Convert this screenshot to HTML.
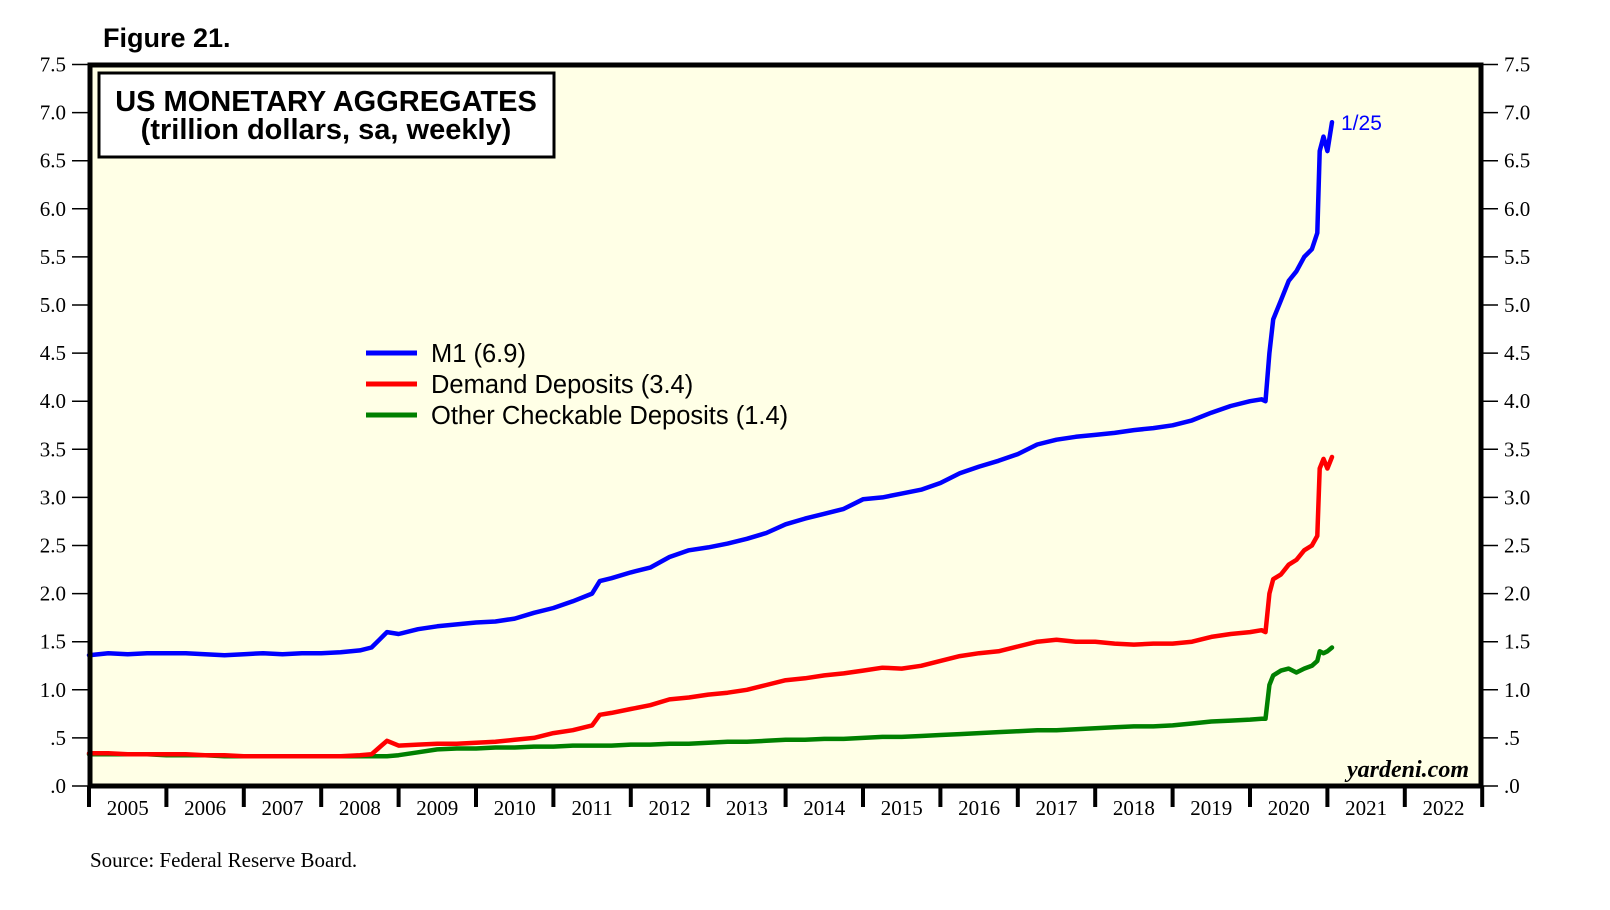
<!DOCTYPE html>
<html><head><meta charset="utf-8"><style>
html,body{margin:0;padding:0;background:#fff;}
svg{display:block;}
</style></head><body>
<svg id="chart" width="1610" height="910" viewBox="0 0 1610 910" xmlns="http://www.w3.org/2000/svg" font-family="'Liberation Serif', serif">
  <text x="103" y="47" font-family="'Liberation Sans', sans-serif" font-weight="bold" font-size="27">Figure 21.</text>
  <rect x="90" y="65" width="1391" height="721" fill="#ffffe6"/>
  <g id="ticks"></g>
  <g id="series"></g>
  <rect x="90" y="65" width="1391" height="721" fill="none" stroke="#000" stroke-width="5"/>
  <rect x="99" y="73" width="455" height="84" fill="#fff" stroke="#000" stroke-width="3"/>
  <text x="326" y="111" text-anchor="middle" font-family="'Liberation Sans', sans-serif" font-weight="bold" font-size="29">US MONETARY AGGREGATES</text>
  <text x="326" y="139" text-anchor="middle" font-family="'Liberation Sans', sans-serif" font-weight="bold" font-size="29">(trillion dollars, sa, weekly)</text>
  <g font-family="'Liberation Sans', sans-serif" font-size="25.5">
    <line x1="366" y1="353" x2="417" y2="353" stroke="#0000ff" stroke-width="5"/>
    <text x="431" y="362">M1 (6.9)</text>
    <line x1="366" y1="384" x2="417" y2="384" stroke="#ff0000" stroke-width="5"/>
    <text x="431" y="393">Demand Deposits (3.4)</text>
    <line x1="366" y1="415" x2="417" y2="415" stroke="#008000" stroke-width="5"/>
    <text x="431" y="424">Other Checkable Deposits (1.4)</text>
  </g>
  <text x="1341" y="130" fill="#0000ff" font-family="'Liberation Sans', sans-serif" font-size="21">1/25</text>
  <text x="1469" y="777" text-anchor="end" font-style="italic" font-weight="bold" font-size="24">yardeni.com</text>
  <text x="90" y="867" font-size="21">Source: Federal Reserve Board.</text>
</svg>
<script>
const yTicks = [0,0.5,1,1.5,2,2.5,3,3.5,4,4.5,5,5.5,6,6.5,7,7.5];
const yTickLabels = [".0",".5","1.0","1.5","2.0","2.5","3.0","3.5","4.0","4.5","5.0","5.5","6.0","6.5","7.0","7.5"];
const years = [2005,2006,2007,2008,2009,2010,2011,2012,2013,2014,2015,2016,2017,2018,2019,2020,2021,2022];
const dates = [2005,2005.25,2005.5,2005.75,2006,2006.25,2006.5,2006.75,2007,2007.25,2007.5,2007.75,2008,2008.25,2008.5,2008.65,2008.75,2008.85,2009,2009.25,2009.5,2009.75,2010,2010.25,2010.5,2010.75,2011,2011.25,2011.5,2011.6,2011.75,2012,2012.25,2012.5,2012.75,2013,2013.25,2013.5,2013.75,2014,2014.25,2014.5,2014.75,2015,2015.25,2015.5,2015.75,2016,2016.25,2016.5,2016.75,2017,2017.25,2017.5,2017.75,2018,2018.25,2018.5,2018.75,2019,2019.25,2019.5,2019.75,2020,2020.15,2020.2,2020.25,2020.3,2020.4,2020.5,2020.6,2020.7,2020.8,2020.87,2020.9,2020.95,2021,2021.06];
const m1 = [1.36,1.38,1.37,1.38,1.38,1.38,1.37,1.36,1.37,1.38,1.37,1.38,1.38,1.39,1.41,1.44,1.52,1.60,1.58,1.63,1.66,1.68,1.70,1.71,1.74,1.80,1.85,1.92,2.00,2.13,2.16,2.22,2.27,2.38,2.45,2.48,2.52,2.57,2.63,2.72,2.78,2.83,2.88,2.98,3.00,3.04,3.08,3.15,3.25,3.32,3.38,3.45,3.55,3.60,3.63,3.65,3.67,3.70,3.72,3.75,3.80,3.88,3.95,4.00,4.02,4.00,4.50,4.85,5.05,5.25,5.35,5.50,5.58,5.75,6.60,6.75,6.60,6.90];
const demand = [0.34,0.34,0.33,0.33,0.33,0.33,0.32,0.32,0.31,0.31,0.31,0.31,0.31,0.31,0.32,0.33,0.40,0.47,0.42,0.43,0.44,0.44,0.45,0.46,0.48,0.50,0.55,0.58,0.63,0.74,0.76,0.80,0.84,0.90,0.92,0.95,0.97,1.00,1.05,1.10,1.12,1.15,1.17,1.20,1.23,1.22,1.25,1.30,1.35,1.38,1.40,1.45,1.50,1.52,1.50,1.50,1.48,1.47,1.48,1.48,1.50,1.55,1.58,1.60,1.62,1.60,2.00,2.15,2.20,2.30,2.35,2.45,2.50,2.60,3.30,3.40,3.30,3.42];
const ocd = [0.33,0.33,0.33,0.33,0.32,0.32,0.32,0.31,0.31,0.31,0.31,0.31,0.31,0.31,0.31,0.31,0.31,0.31,0.32,0.35,0.38,0.39,0.39,0.40,0.40,0.41,0.41,0.42,0.42,0.42,0.42,0.43,0.43,0.44,0.44,0.45,0.46,0.46,0.47,0.48,0.48,0.49,0.49,0.50,0.51,0.51,0.52,0.53,0.54,0.55,0.56,0.57,0.58,0.58,0.59,0.60,0.61,0.62,0.62,0.63,0.65,0.67,0.68,0.69,0.70,0.70,1.05,1.15,1.20,1.22,1.18,1.22,1.25,1.30,1.40,1.38,1.40,1.44];

const NS = 'http://www.w3.org/2000/svg';
const X0 = 89, PX_PER_YEAR = 77.4, Y0 = 786, PX_PER_UNIT = 96.2;
function xScale(t){ return X0 + (t - 2005) * PX_PER_YEAR; }
function yScale(v){ return Y0 - v * PX_PER_UNIT; }
function mk(tag, attrs){ const e = document.createElementNS(NS, tag); for (const k in attrs) e.setAttribute(k, attrs[k]); return e; }

const tg = document.getElementById('ticks');
yTicks.forEach((v, i) => {
  const y = yScale(v);
  const l = mk('line', {x1: 72, y1: y, x2: 90, y2: y, stroke: '#000', 'stroke-width': 1.5});
  
  
  tg.appendChild(l);
  const r = mk('line', {x1: 1481, y1: y, x2: 1498, y2: y, stroke: '#000', 'stroke-width': 1.5});
  
  
  tg.appendChild(r);
  const tl = mk('text', {x: 66, y: y + 7, 'text-anchor': 'end', 'font-size': 21});
  
  
  tl.textContent = yTickLabels[i];
  tg.appendChild(tl);
  const tr = mk('text', {x: 1504, y: y + 7, 'font-size': 21});
  
  
  tr.textContent = yTickLabels[i];
  tg.appendChild(tr);
});
years.concat([2023]).forEach(yr => {
  const x = xScale(yr);
  const l = mk('line', {x1: x, y1: 786, x2: x, y2: 807, stroke: '#000', 'stroke-width': 4});
  
  
  tg.appendChild(l);
});
years.forEach(yr => {
  const t = mk('text', {x: xScale(yr + 0.5), y: 815, 'text-anchor': 'middle', 'font-size': 21});
  
  
  t.textContent = String(yr);
  tg.appendChild(t);
});

const sg = document.getElementById('series');
[[ocd, '#008000', 'line-other-checkable-deposits'], [demand, '#ff0000', 'line-demand-deposits'], [m1, '#0000ff', 'line-m1']].forEach(s => {
  const d = s[0].map((v, i) => (i ? 'L' : 'M') + xScale(dates[i]).toFixed(1) + ',' + yScale(v).toFixed(1)).join(' ');
  const p = mk('path', {d: d, fill: 'none', stroke: s[1], 'stroke-width': 4.5, 'stroke-linejoin': 'round', 'stroke-linecap': 'round'});
  
  
  sg.appendChild(p);
});
</script>
</body></html>
